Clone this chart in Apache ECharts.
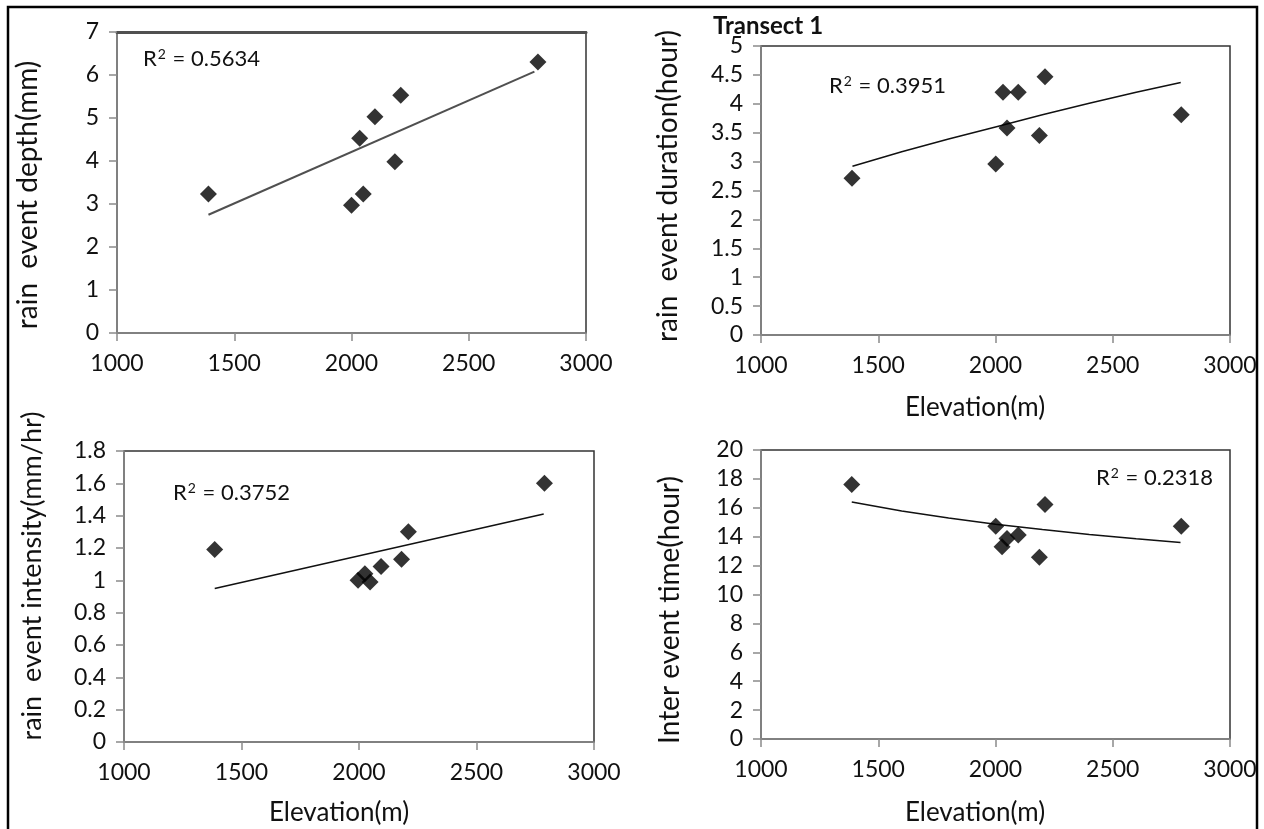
<!DOCTYPE html>
<html>
<head>
<meta charset="utf-8">
<script src="https://cdn.jsdelivr.net/npm/echarts@6/dist/echarts.min.js"></script>
<style>
html,body{margin:0;padding:0;background:#fff;}
#c{width:1264px;height:829px;}
</style>
</head>
<body>
<div id="c"></div>
<script>
// ---- data ----
const xTicks = [1000, 1500, 2000, 2500, 3000];

const elevDepth = [1390, 2000, 2035, 2050, 2100, 2185, 2210, 2795];
const depth     = [3.23, 2.97, 4.53, 3.23, 5.03, 3.98, 5.53, 6.30];
const trendDepthX = [1390, 2780];
const trendDepthY = [2.75, 6.08];

const elevDuration = [1388, 2001, 2032, 2049, 2097, 2187, 2211, 2792];
const duration     = [2.71, 2.96, 4.20, 3.58, 4.20, 3.45, 4.47, 3.81];
const trendDurX = [1390, 1600, 1800, 2000, 2200, 2400, 2600, 2790];
const trendDurY = [2.92, 3.17, 3.39, 3.60, 3.81, 4.01, 4.20, 4.37];

const elevIntensity = [1386, 1996, 2025, 2047, 2094, 2181, 2210, 2789];
const intensity     = [1.19, 1.00, 1.04, 0.99, 1.085, 1.13, 1.30, 1.60];
const trendIntX = [1386, 2786];
const trendIntY = [0.95, 1.41];

const elevInter = [1387, 2001, 2028, 2049, 2097, 2187, 2211, 2792];
const interTime = [17.61, 14.72, 13.30, 13.88, 14.11, 12.57, 16.22, 14.72];
const trendInterX = [1387, 1600, 1800, 2000, 2200, 2400, 2600, 2789];
const trendInterY = [16.40, 15.78, 15.29, 14.86, 14.49, 14.16, 13.86, 13.60];

const r2Values = ['0.5634', '0.3951', '0.3752', '0.2318'];
const yTitles = ['rain  event depth(mm)', 'rain  event duration(hour)', 'rain  event intensity(mm/hr)', 'Inter event time(hour)'];
const xTitle = 'Elevation(m)';
const chartTitle = 'Transect 1';

// ---- build ----
const zip = (a, b) => a.map((v, i) => [v, b[i]]);
const FONT = 'Lato, "Open Sans", sans-serif';
const TXT = '#111';
const AX = '#8a8a8a';

const grids = [
  {left: 117, top: 32, width: 469, height: 301},
  {left: 761, top: 46, width: 469, height: 289},
  {left: 124, top: 451, width: 470, height: 291},
  {left: 761, top: 450, width: 469, height: 289}
].map(g => Object.assign({show: true, borderColor: '#333', borderWidth: 1.5, backgroundColor: 'transparent', containLabel: false}, g));

function xAx(gi) {
  return {
    type: 'value', gridIndex: gi, min: xTicks[0], max: xTicks[xTicks.length - 1], interval: xTicks[1] - xTicks[0],
    axisLine: {show: true, onZero: false, lineStyle: {color: AX, width: 1.5}},
    axisTick: {show: true, inside: false, length: 8, lineStyle: {color: AX, width: 1.5}},
    axisLabel: {fontSize: 23, color: TXT, fontFamily: FONT, margin: 19, formatter: v => String(v)},
    splitLine: {show: false}
  };
}
function yAx(gi, max, interval) {
  return {
    type: 'value', gridIndex: gi, min: 0, max: max, interval: interval,
    axisLine: {show: true, onZero: false, lineStyle: {color: AX, width: 1.5}},
    axisTick: {show: true, inside: false, length: 8, lineStyle: {color: AX, width: 1.5}},
    axisLabel: {fontSize: 23, color: TXT, fontFamily: FONT, margin: 18,
      formatter: v => String(Math.round(v * 100) / 100)},
    splitLine: {show: false}
  };
}

const xAxes = [xAx(0), xAx(1), xAx(2), xAx(3),
  {type: 'value', gridIndex: 0, position: 'top', min: 1000, max: 3000,
   axisLine: {show: true, onZero: false, lineStyle: {color: '#505050', width: 3}},
   axisTick: {show: false}, axisLabel: {show: false}, splitLine: {show: false}}];
const yAxes = [yAx(0, 7, 1), yAx(1, 5, 0.5), yAx(2, 1.8, 0.2), yAx(3, 20, 2)];

function scatter(i, xs, ys) {
  return {type: 'scatter', xAxisIndex: i, yAxisIndex: i, data: zip(xs, ys),
    symbol: 'diamond', symbolSize: [17, 17], itemStyle: {color: '#000'}, z: 5, silent: true};
}
function trend(i, xs, ys, color, w) {
  return {type: 'line', xAxisIndex: i, yAxisIndex: i, data: zip(xs, ys), showSymbol: false,
    smooth: false, lineStyle: {color: color, width: w}, z: 4, silent: true};
}

const series = [
  trend(0, trendDepthX, trendDepthY, '#505050', 2),
  scatter(0, elevDepth, depth),
  trend(1, trendDurX, trendDurY, '#111', 1.5),
  scatter(1, elevDuration, duration),
  trend(2, trendIntX, trendIntY, '#111', 1.5),
  scatter(2, elevIntensity, intensity),
  trend(3, trendInterX, trendInterY, '#111', 1.5),
  scatter(3, elevInter, interTime)
];

function txt(x, y, s, size, opts) {
  return Object.assign({type: 'text', x: x, y: y, z: 10,
    style: Object.assign({text: s, fontSize: size, fontFamily: FONT, fill: TXT, align: 'left', verticalAlign: 'middle'}, (opts && opts.style) || {})},
    opts && opts.el || {});
}
function r2(x, y, val) {
  return txt(x, y, '{b|R}{s|2}{b| = ' + val + '}', 22, {style: {
    rich: {
      b: {fontSize: 22, fontFamily: FONT, fill: TXT, lineHeight: 24, verticalAlign: 'bottom'},
      s: {fontSize: 14, fontFamily: FONT, fill: TXT, lineHeight: 14, verticalAlign: 'top', padding: [1, 1, 0, 1]}
    }
  }});
}

const graphic = [
  {type: 'rect', shape: {x: 8, y: 7, width: 1249, height: 840}, style: {fill: 'none', stroke: '#000', lineWidth: 2.5}, z: 0},
  // R² labels
  r2(143, 58, r2Values[0]),
  r2(829, 85, r2Values[1]),
  r2(173, 492, r2Values[2]),
  r2(1096, 477, r2Values[3]),
  // title
  txt(768, 26, chartTitle, 24, {style: {fontWeight: 'bold', align: 'center'}}),
  // x titles
  txt(975, 408, xTitle, 26, {style: {align: 'center'}}),
  txt(339, 813, xTitle, 26, {style: {align: 'center'}}),
  txt(975, 813, xTitle, 26, {style: {align: 'center'}}),
  // y titles (rotated)
  txt(28, 195, yTitles[0], 28, {style: {align: 'center'}, el: {rotation: Math.PI / 2}}),
  txt(668, 186, yTitles[1], 28, {style: {align: 'center'}, el: {rotation: Math.PI / 2}}),
  txt(32, 576, yTitles[2], 27, {style: {align: 'center'}, el: {rotation: Math.PI / 2}}),
  txt(670, 610, yTitles[3], 28, {style: {align: 'center'}, el: {rotation: Math.PI / 2}})
];

const chart = echarts.init(document.getElementById('c'), null, {renderer: 'canvas'});
chart.setOption({
  animation: false,
  backgroundColor: '#fff',
  grid: grids,
  xAxis: xAxes,
  yAxis: yAxes,
  series: series,
  graphic: graphic
});
</script>
</body>
</html>
